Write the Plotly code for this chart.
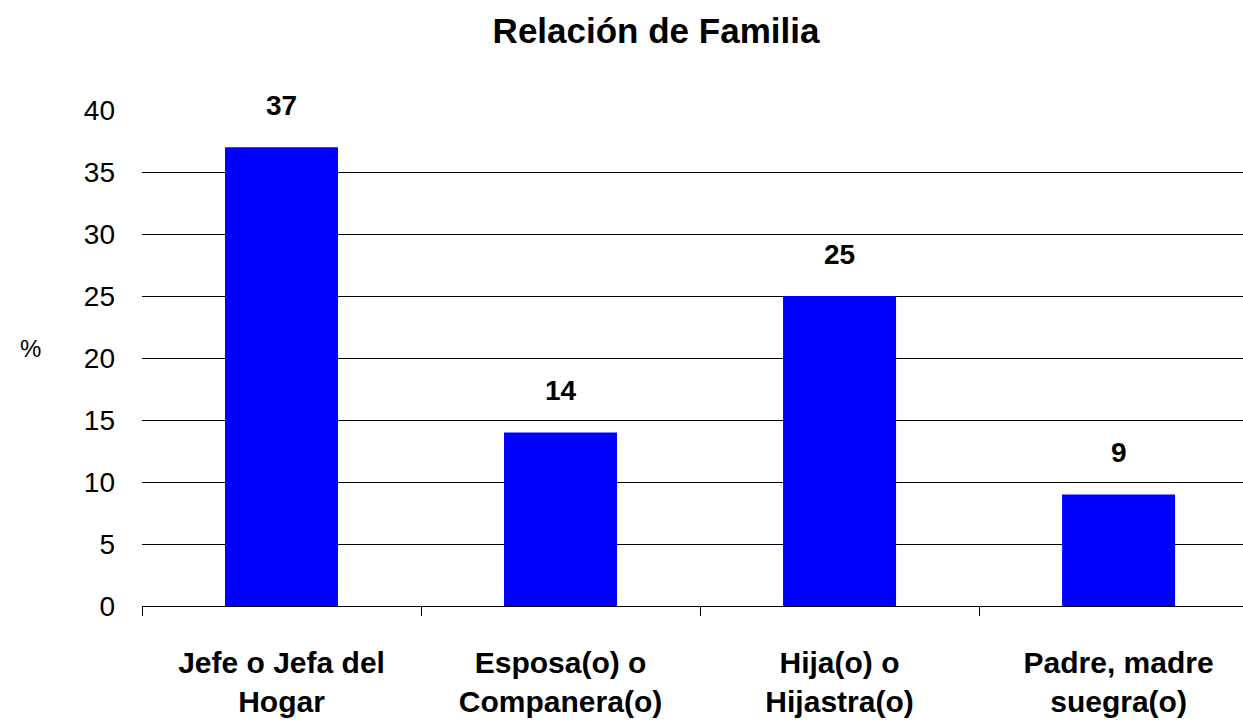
import plotly.graph_objects as go

categories = ["Jefe o Jefa del<br>Hogar", "Esposa(o) o<br>Companera(o)", "Hija(o) o<br>Hijastra(o)", "Padre, madre<br>suegra(o)"]
values = [37, 14, 25, 9]
y_ticks = [0, 5, 10, 15, 20, 25, 30, 35, 40]

FONT = "Liberation Sans, Arial, sans-serif"

fig = go.Figure(go.Bar(
    x=categories, y=values, width=0.405,
    marker=dict(color="#0000FF", line=dict(width=0)),
    hoverinfo="x+y",
))

annotations = [
    dict(x=c, y=v, xref="x", yref="y", text=f"<b>{v}</b>", showarrow=False,
         yanchor="bottom", yshift=24, font=dict(family=FONT, size=28, color="black"))
    for c, v in zip(categories, values)
]
annotations.append(dict(text="%", xref="paper", yref="paper", x=(30 - 142) / 1101, y=(606 - 348) / 496,
                        xanchor="center", yanchor="middle",
                        showarrow=False, font=dict(family=FONT, size=24, color="black")))

fig.update_layout(
    width=1243, height=722, autosize=False,
    margin=dict(l=142, r=0, t=110, b=116),
    paper_bgcolor="white", plot_bgcolor="white",
    showlegend=False,
    font=dict(family=FONT, color="black"),
    title=dict(text="<b>Relación de Familia</b>", x=656 / 1243, xanchor="center", y=1 - 31 / 722, yanchor="middle",
               font=dict(family=FONT, size=35, color="black")),
    xaxis=dict(type="category", range=[-0.5, 3.446], tickson="boundaries",
               ticks="outside", ticklen=9, tickcolor="black", tickwidth=1,
               showline=True, linecolor="black", linewidth=1, automargin=False,
               showgrid=False, tickfont=dict(family=FONT, size=30, color="black"),
               tickvals=categories, ticktext=[f"<b>{c}</b>" for c in categories],
               ticklabelstandoff=30),
    yaxis=dict(range=[0, 40], tickvals=y_ticks, showgrid=True, gridcolor="black", gridwidth=1,
               zeroline=False, showline=False, ticks="", ticklabelstandoff=26, automargin=False,
               tickfont=dict(family=FONT, size=28, color="black")),
    annotations=annotations,
)

fig.write_html("out.html", config={"responsive": False, "displayModeBar": False},
               post_script="document.body.style.margin='0';document.body.style.overflow='hidden';")
